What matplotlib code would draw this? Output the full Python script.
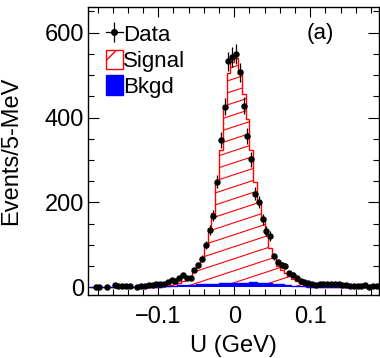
import numpy as np
import matplotlib.pyplot as plt
from matplotlib.collections import LineCollection
from matplotlib.lines import Line2D
from matplotlib.patches import Patch
from matplotlib.ticker import MultipleLocator, FuncFormatter

plt.rcParams['font.family'] = ['Liberation Sans', 'DejaVu Sans']
plt.rcParams['hatch.color'] = 'red'

# 76 bins of 5 MeV between -0.19 and 0.19 GeV
edges = np.linspace(-0.19, 0.19, 77)

data = [0, 2, 2, 0, 2, 0, 5, 4, 3, 3,
        3, 0, 2, 3, 3, 5, 6, 7, 9, 9,
        13, 18, 16, 22, 29, 23, 23, 42, 52, 67,
        100, 136, 169, 249, 347, 426, 532, 543, 550, 507,
        428, 357, 302, 221, 200, 160, 133, 121, 73, 60,
        52, 50, 33, 30, 21, 16, 13, 11, 8, 6,
        9, 9, 8, 7, 7, 7, 6, 5, 3, 4,
        4, 4, 5, 2, 4, 4]

bkgd = [1.5, 1.5, 1.5, 1.5, 1.5, 1.5, 1.5, 1.5, 1.5, 1.5,
        1.5, 1.5, 1.5, 1.5, 1.5, 1.5, 1.5, 1.5, 2, 2.5,
        3, 3.5, 4, 4.5, 5, 5.5, 6, 6.5, 7, 7.5,
        8, 8.5, 9, 9, 9.5, 10, 10, 10, 10.5, 11,
        11, 11, 11.5, 11.5, 11, 11, 10.5, 10, 9, 8,
        7, 6, 5, 4, 3.5, 3, 2.5, 2, 1.5, 1.5,
        1.5, 1.5, 1.5, 1.5, 1.5, 1.5, 1.5, 1.5, 1.5, 1.5,
        1.5, 1.5, 1.5, 1.5, 1.5, 1.5]

signal = [0, 0, 0, 0, 0, 0, 0, 0, 0, 0,
          0, 0, 0, 0, 0, 0, 0, 0, 0, 0,
          0, 1, 3, 6, 10, 15, 21, 29, 40, 65,
          95, 127, 166, 239, 315, 415, 495, 521, 530, 500,
          444, 386, 311, 236, 187, 147, 116, 83, 64, 42,
          34, 27, 21, 16, 11, 8, 4, 2, 0, 0,
          0, 0, 0, 0, 0, 0, 0, 0, 0, 0,
          0, 0, 0, 0, 0, 0]

data = np.array(data, dtype=float)
bkgd = np.array(bkgd)
signal = np.array(signal, dtype=float)
total = bkgd + signal
centers = 0.5 * (edges[:-1] + edges[1:])

fig = plt.figure(figsize=(3.8, 3.58), dpi=100)
ax = fig.add_axes([0.2316, 0.176, 0.7654, 0.804])

# signal (stacked on bkgd), hatched with shallow red lines
clip = ax.stairs(total, edges, baseline=0, fill=True, facecolor='none',
                 edgecolor='none')
ax.stairs(total, edges, baseline=None, color='red', lw=1.0, zorder=3)
slope = 0.333
step = 0.0417
offs = np.arange(-0.5, 1.0, step)
segs = [[(0, c), (1, c + slope)] for c in offs]
hatch = LineCollection(segs, colors='red', linewidths=0.8,
                       transform=ax.transAxes, zorder=2)
hatch.set_clip_path(clip)
ax.add_collection(hatch)

# background
ax.stairs(bkgd, edges, baseline=0, fill=True, color='blue', zorder=4)
ax.stairs(bkgd, edges, baseline=None, color='blue', lw=1.0, zorder=4)

# data
m = data > 0
ax.errorbar(centers[m], data[m], yerr=np.sqrt(data[m]), fmt='o', ms=3.6,
            color='black', ecolor='black', elinewidth=0.9, capsize=0,
            zorder=5)

ax.set_xlim(-0.1925, 0.1905)
ax.set_ylim(-18, 660)
ax.xaxis.set_major_locator(MultipleLocator(0.1))
ax.xaxis.set_minor_locator(MultipleLocator(0.02))
ax.yaxis.set_major_locator(MultipleLocator(200))
ax.yaxis.set_minor_locator(MultipleLocator(50))
ax.xaxis.set_major_formatter(FuncFormatter(lambda v, p: f"{v:g}".replace('-', '\u2212')))
ax.tick_params(which='both', direction='in', top=True, right=True,
               labelsize=17, width=0.8)
ax.tick_params(axis='x', which='major', length=7, pad=8)
ax.tick_params(axis='y', which='major', length=8, pad=3)
ax.tick_params(which='minor', length=4)
for s in ax.spines.values():
    s.set_linewidth(1.0)

ax.set_xlabel('U (GeV)', fontsize=17)
ax.set_ylabel('Events/5-MeV', fontsize=17)
ax.xaxis.set_label_coords(0.5, -0.138)
ax.yaxis.set_label_coords(-0.225, 0.5)

ax.text(0.80, 0.91, '(a)', transform=ax.transAxes, fontsize=16,
        ha='center', va='center')

h_data = (Line2D([], [], color='black', lw=0.9),
          Line2D([], [], color='black', marker='|', ms=14, ls='none', mew=0.9),
          Line2D([], [], color='black', marker='o', ms=4, ls='none'))
h_sig = Patch(facecolor='white', edgecolor='red', hatch='/', lw=1.0)
h_bkg = Patch(facecolor='blue', edgecolor='blue')
ax.legend([h_data, h_sig, h_bkg], ['Data', 'Signal', 'Bkgd'],
          loc='upper left', frameon=False, fontsize=16,
          handlelength=0.8, handleheight=1.0, handletextpad=0.0,
          labelspacing=0.15, borderaxespad=0.0, borderpad=0.2,
          bbox_to_anchor=(0.045, 0.958))

fig.savefig('out.png', dpi=100)
